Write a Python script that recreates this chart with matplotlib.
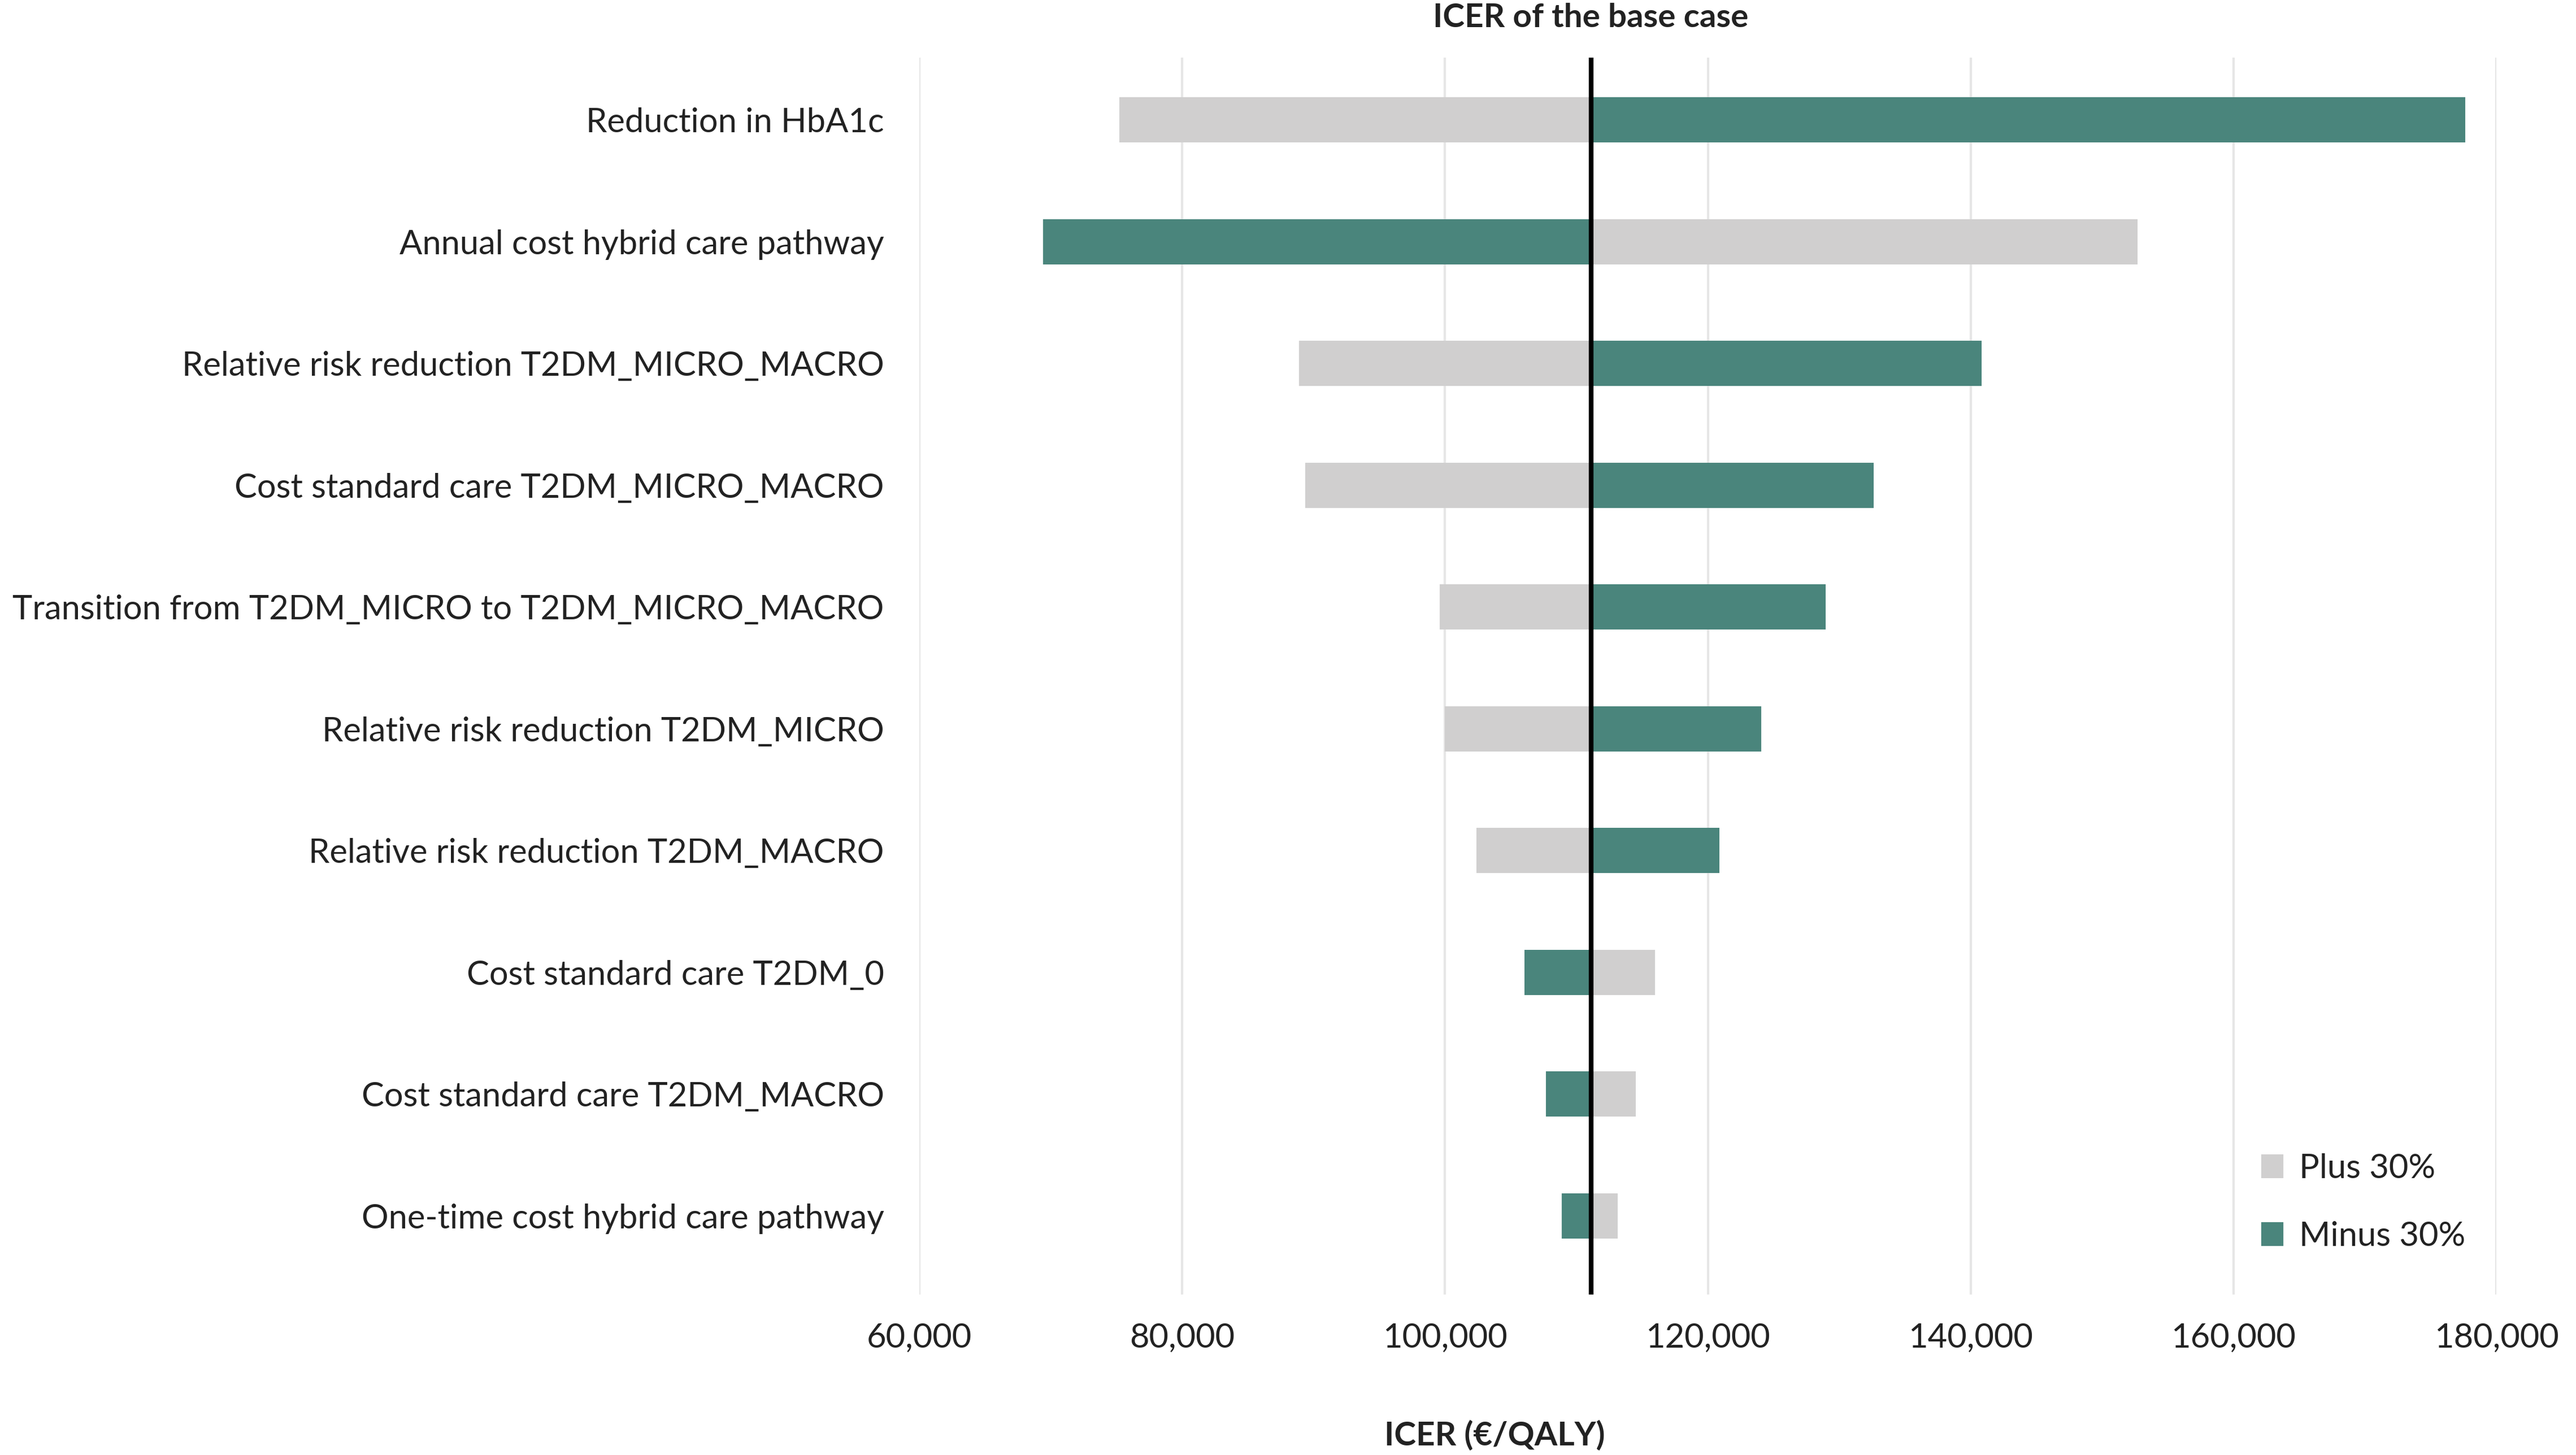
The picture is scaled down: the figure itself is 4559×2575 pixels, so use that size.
import numpy as np
import matplotlib.pyplot as plt
from matplotlib.patches import Patch

plt.rcParams['font.family'] = ['Lato', 'DejaVu Sans']

# parameters, top to bottom
params = ['Reduction in HbA1c',
          'Annual cost hybrid care pathway',
          'Relative risk reduction T2DM_MICRO_MACRO',
          'Cost standard care T2DM_MICRO_MACRO',
          'Transition from T2DM_MICRO to T2DM_MICRO_MACRO',
          'Relative risk reduction T2DM_MICRO',
          'Relative risk reduction T2DM_MACRO',
          'Cost standard care T2DM_0',
          'Cost standard care T2DM_MACRO',
          'One-time cost hybrid care pathway']
base_icer = 111100
icer_plus = [75200, 152700, 88900, 89350, 99600, 100000, 102400, 116000, 114500, 113150]
icer_minus = [177650, 69400, 140850, 132600, 128950, 124050, 120900, 106050, 107700, 108900]
xticks = [60000, 80000, 100000, 120000, 140000, 160000, 180000]

GREY = '#D0CFCF'
GREEN = '#4A857C'

fig = plt.figure(figsize=(4559/300, 2575/300), dpi=300)
ax = fig.add_axes([1627/4559, 1 - 2291/2575, (4418-1627)/4559, (2291-102)/2575])

y = np.arange(len(params))
plus = np.array(icer_plus) - base_icer
minus = np.array(icer_minus) - base_icer
h = 0.37
ax.barh(y, plus, left=base_icer, height=h, color=GREY, zorder=2)
ax.barh(y, minus, left=base_icer, height=h, color=GREEN, zorder=2)
ax.axvline(base_icer, color='black', lw=2.0, zorder=3)

ax.set_xlim(xticks[0], xticks[-1])
ax.set_ylim(len(params) - 1 + 0.646, -0.511)
ax.set_yticks(y)
ax.set_yticklabels(params)
ax.set_xticks(xticks)
ax.set_xticklabels(['{:,}'.format(v) for v in xticks])
ax.tick_params(axis='y', length=0, pad=15, labelsize=14.3, labelcolor='#222222')
ax.tick_params(axis='x', length=0, pad=12, labelsize=14.3, labelcolor='#222222')
ax.grid(axis='x', color='#E6E6E6', lw=1.0, zorder=0)
for s in ax.spines.values():
    s.set_visible(False)

# title sits above the base-case line
title_x = ax.transData.transform((base_icer, 0))[0] / fig.bbox.width
fig.text(title_x, 1 - 32/2575, 'ICER of the base case', ha='center', va='center',
         fontsize=14, fontweight='bold', color='#222222')
fig.text(2645/4559, 1 - 2541/2575, 'ICER (€/QALY)', ha='center', va='center',
         fontsize=14, fontweight='bold', color='#222222')

handles = [Patch(color=GREY, label='Plus 30%'), Patch(color=GREEN, label='Minus 30%')]
fig.legend(handles=handles, loc='center left', bbox_to_anchor=(3950/4559, 1 - 2128/2575),
           frameon=False, fontsize=14.3, handlelength=0.6, handleheight=0.6,
           handletextpad=0.5, labelspacing=1.1, labelcolor='#222222')

fig.savefig('out.png', dpi=300)
